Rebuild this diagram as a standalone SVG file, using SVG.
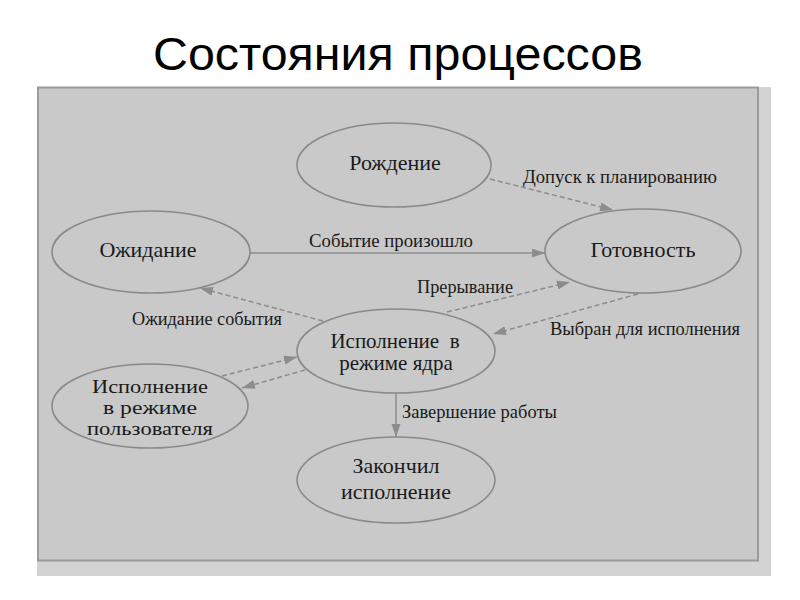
<svg xmlns="http://www.w3.org/2000/svg" width="800" height="600" viewBox="0 0 800 600">
<style>
.node ellipse{fill:none;stroke:#8a8a8a;stroke-width:1.6}
.nt{font-family:"Liberation Serif","DejaVu Serif",serif;font-size:22px;fill:#1a1a1a;text-anchor:middle}
.sm{font-size:18px}
.lb{font-family:"Liberation Serif","DejaVu Serif",serif;font-size:18px;fill:#1a1a1a}
.c{stroke:#8c8c8c;stroke-width:1.5;fill:none}
.d{stroke-dasharray:5,3}
.title{font-family:"Liberation Sans",Arial,sans-serif;font-size:46px;fill:#000;text-anchor:middle}
</style>
<defs>
<marker id="ah" markerUnits="userSpaceOnUse" markerWidth="14" markerHeight="10" refX="13" refY="4.5" orient="auto">
<path d="M0,0 L13,4.5 L0,9 z" fill="#8c8c8c"/>
</marker>
</defs>
<rect width="800" height="600" fill="#ffffff"/>
<text class="title" x="398" y="70" textLength="490" lengthAdjust="spacingAndGlyphs">Состояния процессов</text>
<rect x="37" y="87" width="734" height="489" fill="#d3d3d3"/>
<rect x="38" y="87.5" width="720" height="473" fill="#c9c9c9" stroke="#9a9a9a" stroke-width="2"/>

<g id="connectors">
<line class="c d" x1="490" y1="179" x2="613" y2="210" marker-end="url(#ah)"/>
<line class="c" x1="250" y1="253" x2="545" y2="253" marker-end="url(#ah)"/>
<line class="c d" x1="447" y1="312" x2="570" y2="282" marker-end="url(#ah)"/>
<line class="c d" x1="638" y1="294" x2="493" y2="334" marker-end="url(#ah)"/>
<line class="c d" x1="323" y1="321" x2="200" y2="288" marker-end="url(#ah)"/>
<line class="c d" x1="222" y1="376" x2="297" y2="357" marker-end="url(#ah)"/>
<line class="c d" x1="305" y1="370" x2="242" y2="388" marker-end="url(#ah)"/>
<line class="c" x1="396" y1="393" x2="396" y2="437" marker-end="url(#ah)"/>
<text class="lb" x="523" y="183" textLength="194" lengthAdjust="spacingAndGlyphs">Допуск к планированию</text>
<text class="lb" x="309" y="247" textLength="164" lengthAdjust="spacingAndGlyphs">Событие произошло</text>
<text class="lb" x="417" y="293" textLength="96" lengthAdjust="spacingAndGlyphs">Прерывание</text>
<text class="lb" x="132" y="325" textLength="150" lengthAdjust="spacingAndGlyphs">Ожидание события</text>
<text class="lb" x="550" y="335" textLength="190" lengthAdjust="spacingAndGlyphs">Выбран для исполнения</text>
<text class="lb" x="402" y="418" textLength="155" lengthAdjust="spacingAndGlyphs">Завершение работы</text>
</g>

<g id="birth" class="node">
<ellipse cx="394" cy="165" rx="97" ry="42"/>
<text class="nt" x="395" y="170">Рождение</text>
</g>
<g id="ready" class="node">
<ellipse cx="643" cy="251" rx="98" ry="42"/>
<text class="nt" x="643" y="257">Готовность</text>
</g>
<g id="waiting" class="node">
<ellipse cx="151" cy="252" rx="99" ry="41"/>
<text class="nt" x="148" y="257">Ожидание</text>
</g>
<g id="kernel" class="node">
<ellipse cx="396" cy="351" rx="99" ry="42"/>
<text class="nt" x="395" y="348" style="font-size:21px" xml:space="preserve">Исполнение  в</text>
<text class="nt" x="396" y="370" style="font-size:21px">режиме ядра</text>
</g>
<g id="user" class="node">
<ellipse cx="150" cy="406" rx="98" ry="42"/>
<text class="nt sm" x="150" y="393" textLength="116" lengthAdjust="spacingAndGlyphs">Исполнение</text>
<text class="nt sm" x="150" y="414" textLength="94" lengthAdjust="spacingAndGlyphs">в режиме</text>
<text class="nt sm" x="150" y="435" textLength="126" lengthAdjust="spacingAndGlyphs">пользователя</text>
</g>
<g id="done" class="node">
<ellipse cx="396" cy="480" rx="99" ry="43"/>
<text class="nt" x="396" y="473">Закончил</text>
<text class="nt" x="396" y="499">исполнение</text>
</g>
</svg>
